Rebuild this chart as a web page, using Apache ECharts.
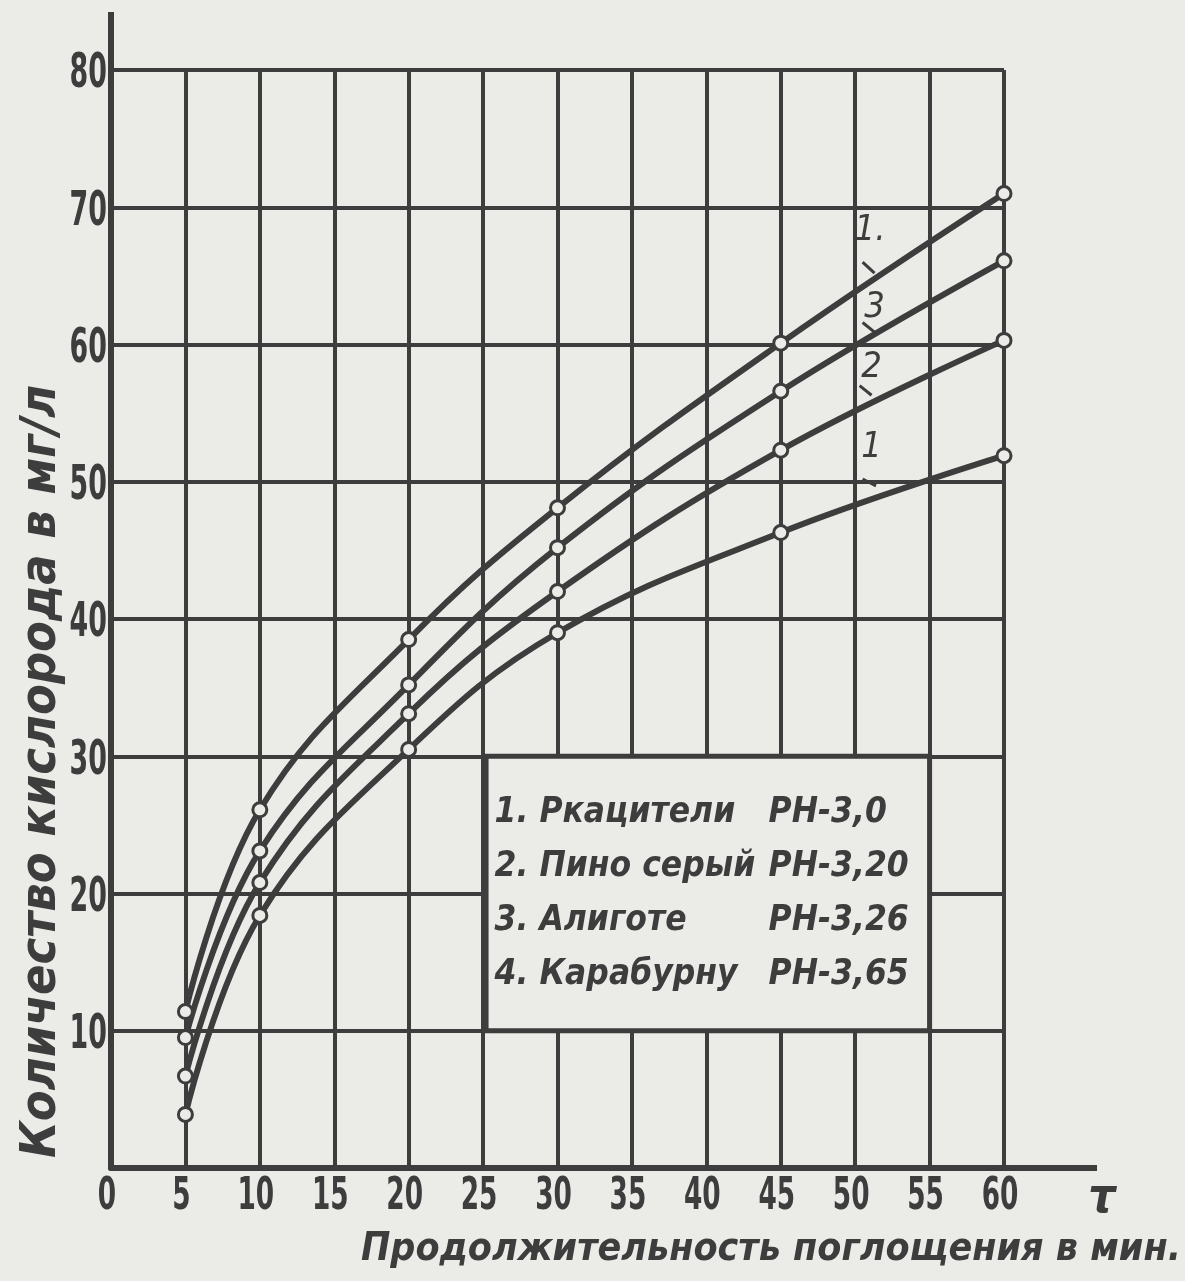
<!DOCTYPE html>
<html>
<head>
<meta charset="utf-8">
<script src="https://cdn.jsdelivr.net/npm/echarts@6.0.0/dist/echarts.min.js"></script>
<style>
    html, body { margin: 0; padding: 0; background: #ebebe8; }
    #chart { width: 1185px; height: 1281px; }
</style>
</head>
<body>
<div id="chart"></div>
<script>
// время поглощения, мин
const times = [5, 10, 20, 30, 45, 60];
// количество кислорода, мг/л
const rkatsiteli = [11.4, 26.1, 38.5, 48.1, 60.1, 71.0];
const pinoSery = [6.7, 20.8, 33.1, 42.0, 52.3, 60.3];
const aligote = [9.5, 23.1, 35.2, 45.2, 56.6, 66.1];
const karaburnu = [3.9, 18.4, 30.5, 39.0, 46.3, 51.9];

const xTicks = [0, 5, 10, 15, 20, 25, 30, 35, 40, 45, 50, 55, 60];
const yTicks = [10, 20, 30, 40, 50, 60, 70, 80];

const legendNames = ['1. Ркацители', '2. Пино серый', '3. Алиготе', '4. Карабурну'];
const legendPh = ['РН-3,0', 'РН-3,20', 'РН-3,26', 'РН-3,65'];

const ink = '#3d3d3d';
const paper = '#ebebe8';
const numFont = '"DejaVu Sans", sans-serif';
const textFont = '"DejaVu Sans Condensed", "DejaVu Sans", sans-serif';

function pairs(ys) {
    var out = [];
    for (var i = 0; i < times.length; i++) {
        out.push([times[i], ys[i]]);
    }
    return out;
}

function curve(name, ys, tag, tagAt, tickFrom, tickTo) {
    return {
        name: name,
        type: 'line',
        data: pairs(ys),
        smooth: 0.4,
        symbol: 'circle',
        symbolSize: 14,
        lineStyle: { color: ink, width: 6 },
        itemStyle: { color: paper, borderColor: ink, borderWidth: 3 },
        z: 3,
        markPoint: {
            symbol: 'circle',
            symbolSize: 0,
            label: {
                show: true,
                formatter: tag,
                color: ink,
                fontFamily: textFont,
                fontStyle: 'italic',
                fontSize: 36
            },
            data: [{ coord: tagAt }]
        },
        markLine: {
            silent: true,
            symbol: 'none',
            label: { show: false },
            lineStyle: { color: ink, width: 3, type: 'solid' },
            data: [[{ coord: tickFrom }, { coord: tickTo }]]
        }
    };
}

var rich = { n: { width: 274, fontSize: 35 }, p: { fontSize: 35 } };
var legendText = legendNames.map(function (n, i) {
    return '{n|' + n + '}{p|' + legendPh[i] + '}';
}).join('\n');

var chartDom = document.getElementById('chart');
var myChart = echarts.init(chartDom, null, { renderer: 'canvas' });
var option;

var baseGraphic = [
    // ось ординат продолжается выше 80
    { type: 'line', shape: { x1: 111, y1: 72, x2: 111, y2: 12 }, style: { stroke: ink, lineWidth: 6 } },
    // ось абсцисс продолжается правее 60
    { type: 'line', shape: { x1: 1002, y1: 1168, x2: 1097, y2: 1168 }, style: { stroke: ink, lineWidth: 6 } },
    {
        type: 'text', x: 1102, y: 1200,
        style: { text: 'τ', fill: ink, font: 'italic bold 48px ' + textFont, textAlign: 'center', textVerticalAlign: 'middle' }
    },
    {
        type: 'text', x: 42, y: 1158, rotation: Math.PI / 2,
        style: {
            text: 'Количество кислорода в мг/л',
            fill: ink,
            font: 'italic bold 50px ' + textFont,
            textAlign: 'left',
            textVerticalAlign: 'middle'
        }
    },
    {
        type: 'text', x: 1181, y: 1250,
        style: {
            text: 'Продолжительность поглощения в мин.',
            fill: ink,
            font: 'italic bold 39px ' + textFont,
            textAlign: 'right',
            textVerticalAlign: 'middle'
        }
    }
];

option = {
    backgroundColor: paper,
    animation: false,
    grid: {
        left: 111,
        top: 70,
        right: 181,
        bottom: 113,
        containLabel: false,
        outerBoundsMode: 'none'
    },
    xAxis: {
        type: 'value',
        min: 0,
        max: 60,
        interval: 5,
        axisLine: { show: true, lineStyle: { color: ink, width: 6 } },
        axisTick: { show: false },
        axisLabel: { show: false },
        splitLine: { show: true, lineStyle: { color: ink, width: 4 } }
    },
    yAxis: {
        type: 'value',
        min: 0,
        max: 80,
        interval: 10,
        axisLine: { show: true, lineStyle: { color: ink, width: 6 } },
        axisTick: { show: false },
        axisLabel: { show: false },
        splitLine: { show: true, lineStyle: { color: ink, width: 4 } }
    },
    series: [
        curve('Ркацители', rkatsiteli, '1.', [51, 68.3], [50.5, 66.0], [51.3, 65.2]),
        curve('Алиготе', aligote, '3', [51.3, 62.7], [50.5, 61.6], [51.3, 60.9]),
        curve('Пино серый', pinoSery, '2', [51.1, 58.3], [50.3, 57.0], [51.1, 56.3]),
        curve('Карабурну', karaburnu, '1', [51.1, 52.5], [50.5, 50.2], [51.4, 49.7]),
        {
            name: 'legendBox',
            type: 'line',
            data: [],
            silent: true,
            markArea: {
                silent: true,
                itemStyle: { color: paper, borderColor: ink, borderWidth: 5 },
                label: {
                    show: true,
                    position: 'insideLeft',
                    distance: 11,
                    formatter: legendText,
                    color: ink,
                    fontFamily: textFont,
                    fontWeight: 'bold',
                    fontStyle: 'italic',
                    fontSize: 35,
                    lineHeight: 54,
                    rich: rich
                },
                data: [[{ coord: [25.2, 30] }, { coord: [55, 10] }]]
            }
        }
    ],
    graphic: baseGraphic
};

option && myChart.setOption(option);

// подписи делений: узкие и высокие цифры, как на оригинале
var tickLabels = [];
xTicks.forEach(function (v) {
    var p = myChart.convertToPixel({ gridIndex: 0 }, [v, 0]);
    tickLabels.push({
        type: 'text', x: p[0] - 4, y: p[1] + 30, scaleX: 0.6,
        style: { text: String(v), fill: ink, font: 'bold 44px ' + numFont, textAlign: 'center', textVerticalAlign: 'middle' }
    });
});
yTicks.forEach(function (v) {
    var p = myChart.convertToPixel({ gridIndex: 0 }, [0, v]);
    tickLabels.push({
        type: 'text', x: p[0] - 4, y: p[1] + 5, scaleX: 0.56,
        style: { text: String(v), fill: ink, font: 'bold 48px ' + numFont, textAlign: 'right', textVerticalAlign: 'middle' }
    });
});
myChart.setOption({ graphic: baseGraphic.concat(tickLabels) });
</script>
</body>
</html>
